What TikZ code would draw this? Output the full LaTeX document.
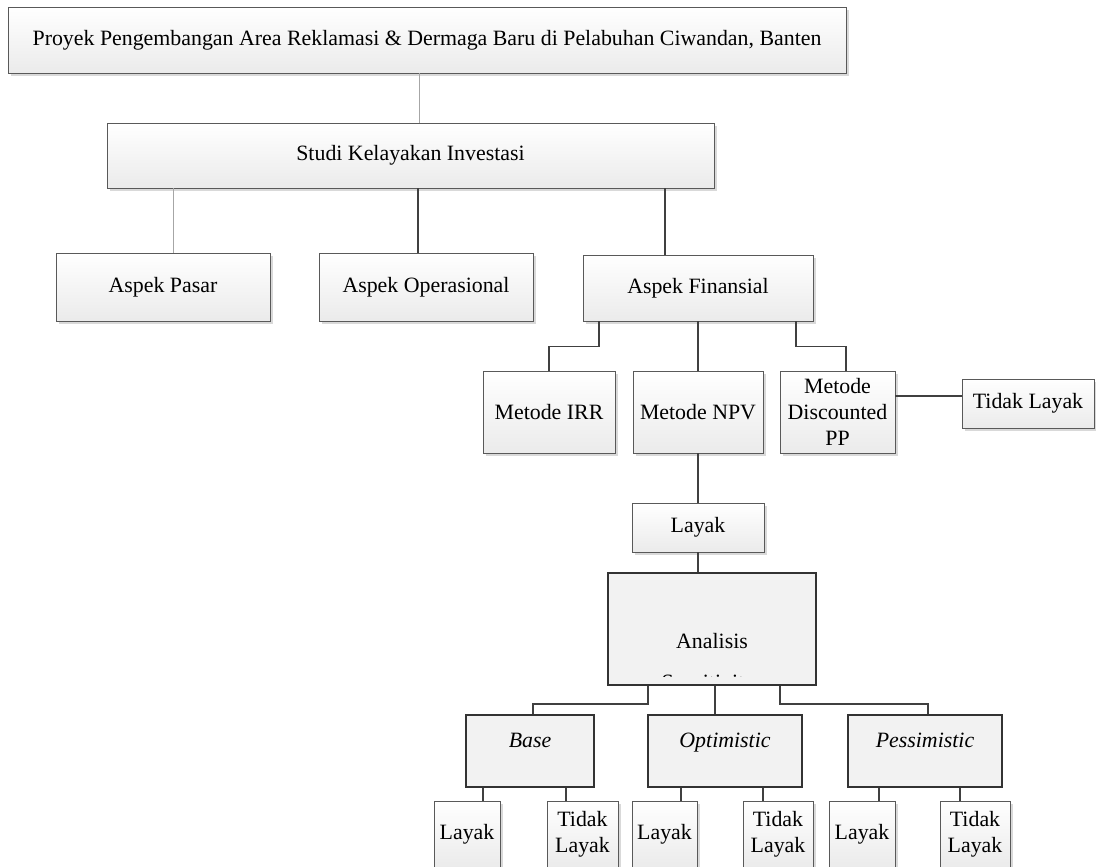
\documentclass[tikz,border=0pt]{standalone}
\usepackage{fontspec}
\setmainfont{Liberation Serif}
\usetikzlibrary{shadows}

\begin{document}
\begin{tikzpicture}[x=0.75pt,y=-0.75pt]
% styles
\tikzset{
  wh/.style 2 args={minimum width=#1*0.75pt, minimum height=#2*0.75pt},
  txt/.style={font=\fontsize{16.4}{19.5}\selectfont, align=center, inner sep=0pt},
  gbox/.style={txt, draw=black!65, line width=0.6pt, top color=white, bottom color=black!8,
    general shadow={fill=black!15, shadow xshift=2.2pt, shadow yshift=-2.2pt}},
  sbox/.style={txt, draw=black!80, line width=1.4pt, fill=black!5},
  lnk/.style={draw=black!75, line width=1.2pt},
  flnk/.style={draw=black!35, line width=0.7pt}
}

% ----- page -----
\clip (0,0) rectangle (1096,867);
\fill[white] (0,0) rectangle (1096,867);

% ===== top levels =====
\node[gbox, wh={838}{66}] (proyek) at (427,40)
  {Proyek Pengembangan Area Reklamasi \& Dermaga Baru di Pelabuhan Ciwandan, Banten};
\node[gbox, wh={607}{65}] (studi) at (410.5,155.5) {Studi Kelayakan Investasi};

\node[gbox, wh={214}{68}] (pasar) at (163,287) {Aspek Pasar};
\node[gbox, wh={214}{68}] (oper) at (426,287) {Aspek Operasional};
\node[gbox, wh={230}{66}] (fin) at (698,288) {Aspek Finansial};

\draw[flnk] (proyek.south -| 419,0) -- (studi.north -| 419,0);
\draw[flnk] (studi.south -| 173,0) -- (pasar.north -| 173,0);
\draw[lnk] (studi.south -| 418,0) -- (oper.north -| 418,0);
\draw[lnk] (studi.south -| 665,0) -- (fin.north -| 665,0);

% ===== methods =====
\node[gbox, wh={132}{82}] (irr) at (549,412) {Metode IRR};
\node[gbox, wh={130}{82}] (npv) at (698,412) {Metode NPV};
\node[gbox, wh={115}{82}] (dpp) at (837.5,412) {Metode\\Discounted\\PP};
\node[gbox, wh={132}{49}] (tl) at (1028,403.5) {Tidak Layak};

\draw[lnk] (fin.south -| 599,0) -- ++(0,25) -| (irr.north);
\draw[lnk] (fin.south -| npv.north) -- (npv.north);
\draw[lnk] (fin.south -| 796,0) -- ++(0,25) -| (dpp.north -| 846,0);
\draw[lnk] (dpp.east |- 0,396) -- (tl.west |- 0,396);

% ===== NPV result =====
\node[gbox, wh={132}{49}] (layak) at (698,527.5) {Layak};
\draw[lnk] (npv.south) -- (layak.north);

% ===== sensitivity =====
\node[sbox, wh={208}{112}] (anal) at (712,629) {};
\begin{scope}
  \clip (609,574) rectangle (815,676);
  \node[txt, anchor=base] at (712,648) {Analisis};
  \node[txt, anchor=base] at (712,689) {Sensitivitas};
\end{scope}
\draw[lnk] (layak.south) -- (anal.north -| layak.south);

\node[sbox, wh={128}{72}] (base) at (530,751) {};
\node[sbox, wh={154}{72}] (opt) at (725,751) {};
\node[sbox, wh={154}{72}] (pess) at (925,751) {};
\node[txt, anchor=base] at (530,747) {\textit{Base}};
\node[txt, anchor=base] at (725,747) {\textit{Optimistic}};
\node[txt, anchor=base] at (925,747) {\textit{Pessimistic}};

\draw[lnk] (anal.south -| 648,0) -- ++(0,18) -| (base.north -| 533,0);
\draw[lnk] (anal.south -| 715,0) -- (opt.north -| 715,0);
\draw[lnk] (anal.south -| 780,0) -- ++(0,18) -| (pess.north -| 928,0);

% ===== scenario results =====
\node[gbox, wh={66}{67}] (bl) at (467,834.5) {Layak};
\node[gbox, wh={71}{67}] (bt) at (582.5,834.5) {Tidak\\Layak};
\node[gbox, wh={65}{67}] (ol) at (664.5,834.5) {Layak};
\node[gbox, wh={70}{67}] (ot) at (778,834.5) {Tidak\\Layak};
\node[gbox, wh={66}{67}] (pl) at (862,834.5) {Layak};
\node[gbox, wh={70}{67}] (pt) at (975,834.5) {Tidak\\Layak};

\draw[lnk] (base.south -| 483,0) -- (bl.north -| 483,0);
\draw[lnk] (base.south -| 566,0) -- (bt.north -| 566,0);
\draw[lnk] (opt.south -| 681,0) -- (ol.north -| 681,0);
\draw[lnk] (opt.south -| 763,0) -- (ot.north -| 763,0);
\draw[lnk] (pess.south -| 879,0) -- (pl.north -| 879,0);
\draw[lnk] (pess.south -| 960,0) -- (pt.north -| 960,0);
\end{tikzpicture}
\end{document}
